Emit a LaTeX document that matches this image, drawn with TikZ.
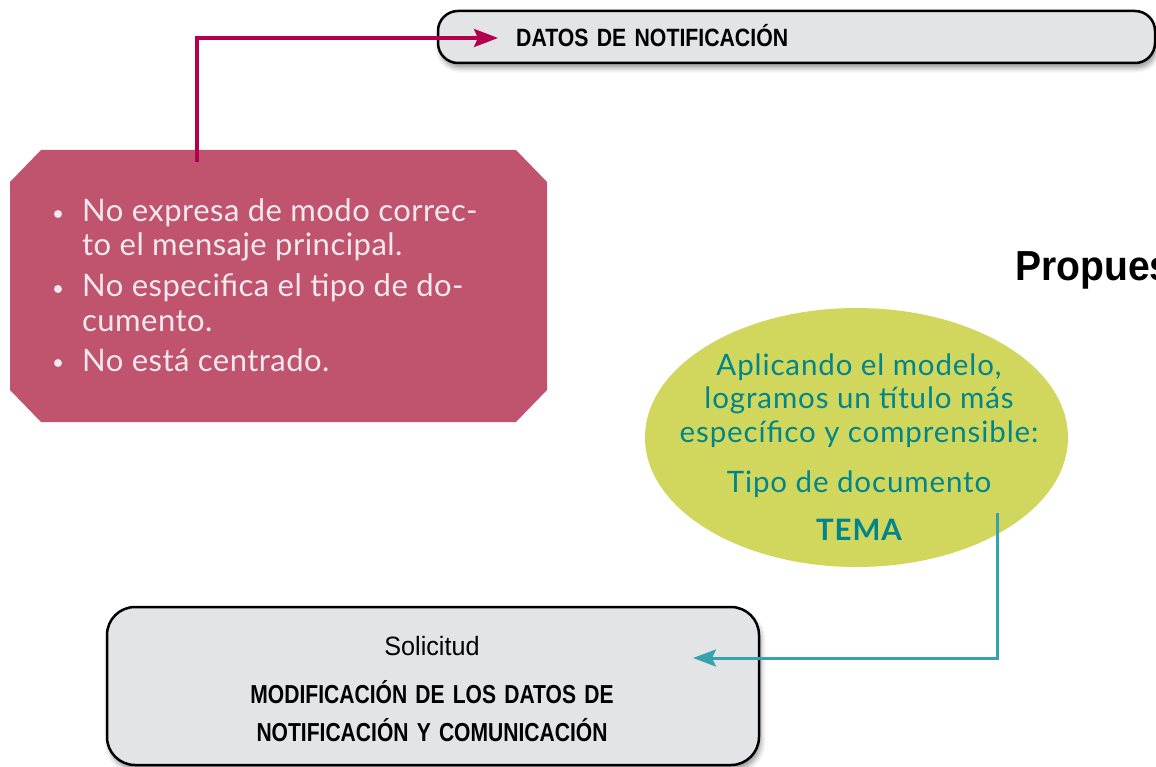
\documentclass[tikz,border=0pt]{standalone}
\usepackage{fontspec}
\setmainfont{Lato}
\newfontfamily\pinkfont[LetterSpace=1.5]{Lato}
\newfontfamily\ellfont[LetterSpace=3]{Lato}
\newfontfamily\condtop[FakeStretch=0.85,WordSpace=1.4]{Liberation Sans}
\newfontfamily\cond[FakeStretch=0.81,WordSpace=1.4]{Liberation Sans}
\newfontfamily\condlight[FakeStretch=0.95]{Liberation Sans}
\newfontfamily\propfont[FakeStretch=0.93]{Liberation Sans}
\usetikzlibrary{shapes.misc,shapes.geometric,arrows.meta,shadows.blur}
\definecolor{boxgray}{HTML}{E3E4E6}
\definecolor{pinkbox}{HTML}{C0546F}
\definecolor{pinktext}{HTML}{F3E9EC}
\definecolor{magline}{HTML}{B2004F}
\definecolor{lime}{HTML}{D1D65C}
\definecolor{tealtext}{HTML}{00868A}
\definecolor{tealline}{HTML}{35A3AD}
\tikzset{
  graybox/.style={draw=black, line width=2.5pt, fill=boxgray, inner sep=0pt,
    blur shadow={shadow xshift=2pt, shadow yshift=-5pt, shadow blur radius=5pt, shadow opacity=40}},
  pinktxt/.style={anchor=base west, inner sep=0pt, text=pinktext, font=\pinkfont\fontsize{31}{34}\selectfont},
  bul/.style={circle, fill=pinktext, inner sep=0pt, minimum size=8pt},
  elltxt/.style={anchor=base, inner sep=0pt, text=tealtext, font=\ellfont\fontsize{29.5}{32}\selectfont},
  captxt/.style={anchor=base, inner sep=0pt, text=black},
  magarrow/.style={draw=magline, line width=3.2pt, -{Stealth[length=24pt,width=18pt,inset=4pt]}},
  tealarrow/.style={draw=tealline, line width=3pt, -{Stealth[length=23pt,width=17pt,inset=4pt]}},
}
\begin{document}
\begin{tikzpicture}[x=1pt,y=-1pt]
\useasboundingbox (0,0) rectangle (1156,767);
% top box
\node[graybox, rounded corners=20pt, minimum width=717pt, minimum height=52pt] (topbox) at (796.5,37) {};
\node[captxt, anchor=base west, font=\condtop\bfseries\fontsize{25}{28}\selectfont] (toptxt) at (516,47) {DATOS DE NOTIFICACIÓN};
% pink octagon
\fill[pinkbox] (10,182) -- (41,150) -- (516,150) -- (547,182) -- (547,390) -- (516,422) -- (41,422) -- (10,390) -- cycle;
\node[inner sep=0pt, minimum width=537pt, minimum height=272pt] (oct) at (278.5,286) {};
\node[bul] (b1) at (58,214) {};
\node[bul] (b2) at (58,289) {};
\node[bul] (b3) at (58,363) {};
\node[pinktxt] (p1) at (82,222) {No expresa de modo correc-};
\node[pinktxt] (p2) at (82,256) {to el mensaje principal.};
\node[pinktxt] (p3) at (82,297) {No especifica el tipo de do-};
\node[pinktxt] (p4) at (82,331) {cumento.};
\node[pinktxt] (p5) at (82,371) {No está centrado.};
% magenta connector
\coordinate (m1) at (197,162);
\coordinate (m2) at (498,38);
\draw[magarrow] (m1) |- (m2);
% Propues
\node[anchor=base west, inner sep=0pt, font=\propfont\bfseries\fontsize{42}{46}\selectfont] (prop) at (1015,280) {Propues};
% ellipse
\node[ellipse, fill=lime, draw=none, inner sep=0pt, minimum width=423pt, minimum height=259pt] (ell) at (856.5,437.5) {};
\node[elltxt] (e1) at (859,375) {Aplicando el modelo,};
\node[elltxt] (e2) at (859,408) {logramos un título más};
\node[elltxt] (e3) at (859,442) {específico y comprensible:};
\node[elltxt] (e4) at (859,492) {Tipo de documento};
\node[elltxt, font=\ellfont\bfseries\fontsize{29.5}{32}\selectfont] (e5) at (859,540) {TEMA};
% bottom box
\node[graybox, rounded corners=28pt, minimum width=652pt, minimum height=158pt] (botbox) at (433,686) {};
\node[captxt, font=\condlight\fontsize{26.5}{29}\selectfont] (s1) at (432,655) {Solicitud};
\node[captxt, font=\cond\bfseries\fontsize{26}{29}\selectfont] (s2) at (432,703) {MODIFICACIÓN DE LOS DATOS DE};
\node[captxt, font=\cond\bfseries\fontsize{26}{29}\selectfont] (s3) at (432,741) {NOTIFICACIÓN Y COMUNICACIÓN};
% teal connector
\coordinate (t1) at (997,513);
\coordinate (t2) at (693,658);
\draw[tealarrow] (t1) |- (t2);
\end{tikzpicture}
\end{document}
